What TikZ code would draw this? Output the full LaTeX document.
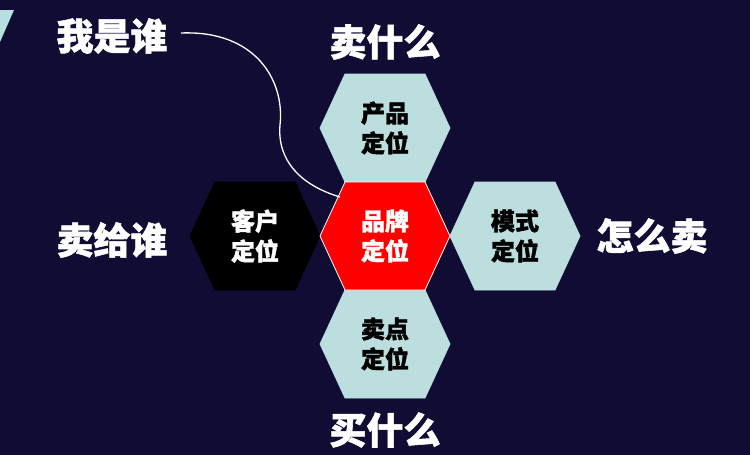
\documentclass[tikz,border=0pt]{standalone}
\usepackage{fontspec}
\newfontfamily\cjk{Noto Sans CJK SC}[FakeBold=1.5]
\begin{document}
\begin{tikzpicture}[x=1pt,y=-1pt,
  big/.style={text=white,font=\cjk\bfseries\fontsize{37}{40}\selectfont},
  hl/.style={align=center,font=\cjk\bfseries\fontsize{24}{30}\selectfont}]
\useasboundingbox (0,0) rectangle (750,455);
\fill[fill={rgb,255:red,16;green,12;blue,52}] (0,0) rectangle (750,455);
\fill[fill={rgb,255:red,185;green,222;blue,224}] (0,10) -- (14,10) -- (0,42) -- cycle;
\definecolor{lb}{RGB}{188,222,222}
\newcommand{\hexagon}[3]{\filldraw[fill=#3,draw=#2,line width=0.8pt] (#1) ++(-65,0) -- ++(25,-54) -- ++(80,0) -- ++(25,54) -- ++(-25,54) -- ++(-80,0) -- cycle;}
\coordinate (cT) at (385,128);
\coordinate (cC) at (385,236);
\coordinate (cB) at (385,344);
\coordinate (cL) at (255,236);
\coordinate (cR) at (515,236);
\hexagon{cT}{lb}{lb}
\hexagon{cB}{lb}{lb}
\hexagon{cR}{lb}{lb}
\hexagon{cL}{black}{black}
\hexagon{cC}{white}{red}
\node[hl] (tT) at (cT) {产品\\定位};
\node[hl] (tB) at (cB) {卖点\\定位};
\node[hl] (tR) at (cR) {模式\\定位};
\node[hl,text=white] (tL) at (cL) {客户\\定位};
\node[hl,text=white] (tC) at (cC) {品牌\\定位};
\node[big] (who) at (112,36) {我是谁};
\node[big] (sell) at (385,42) {卖什么};
\node[big] (whom) at (112,240) {卖给谁};
\node[big] (how) at (652,236) {怎么卖};
\node[big] (buy) at (385,430) {买什么};
\coordinate (curveStart) at (181,33);
\coordinate (curveEnd) at (340,197);
\draw[white,line width=1.3pt] (curveStart) .. controls (255,30) and (285,80) .. (280,125) .. controls (277,160) and (300,185) .. (curveEnd);
\end{tikzpicture}
\end{document}
